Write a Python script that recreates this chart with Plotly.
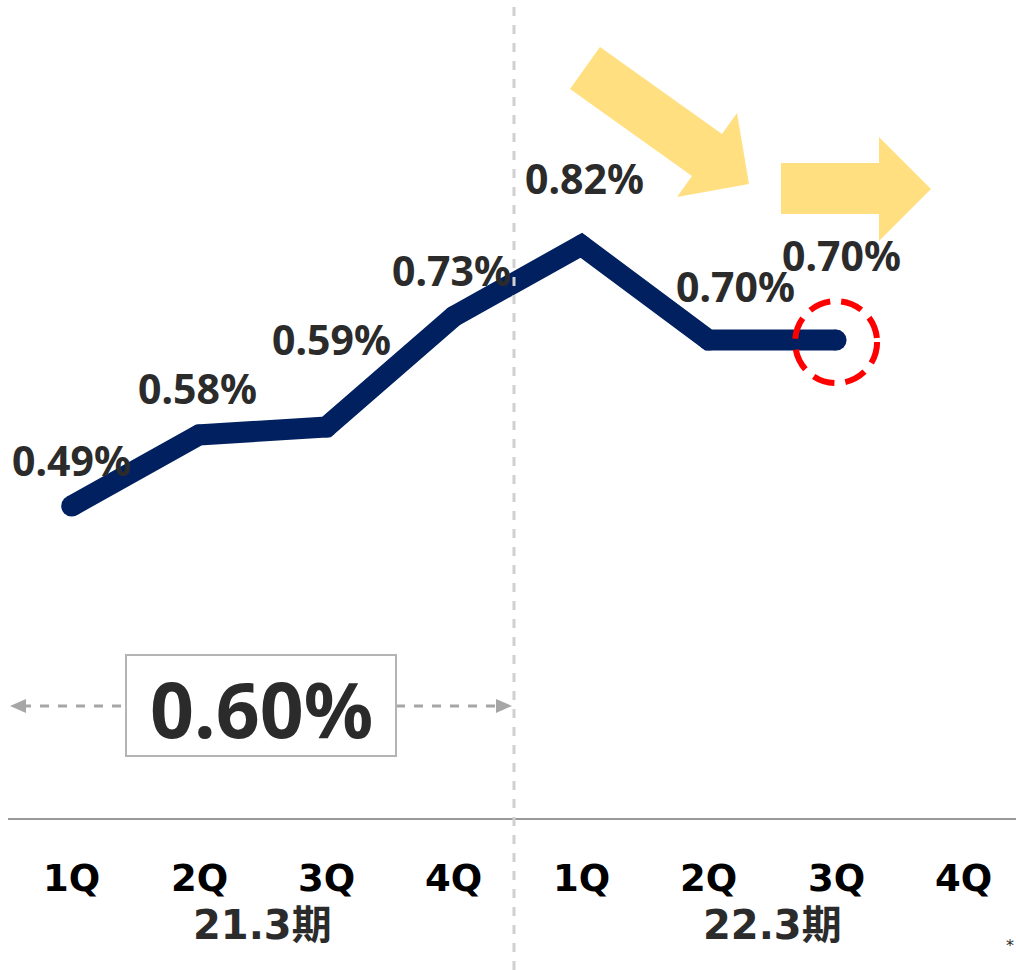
import plotly.graph_objects as go

quarters = ["1Q", "2Q", "3Q", "4Q", "1Q", "2Q", "3Q", "4Q"]
periods = ["21.3期", "22.3期"]
values = [0.49, 0.58, 0.59, 0.73, 0.82, 0.70, 0.70]
value_labels = ["0.49%", "0.58%", "0.59%", "0.73%", "0.82%", "0.70%", "0.70%"]
average_label = "0.60%"

W, H = 1016, 970
ML, MR, MT, MB = 8, 0, 0, 152
PW, PH = W - ML - MR, H - MT - MB
XR = [-0.5, -0.5 + PW / 127.4]
YR = [0.49 - 312 / 790, 0.49 + 506 / 790]

def px2paper(x, y):
    # x, y in screen pixels
    return ((x - ML) / PW, 1 - (y - MT) / PH)

def path(points):
    s = ""
    for i, (x, y) in enumerate(points):
        px, py = px2paper(x, y)
        s += ("M" if i == 0 else "L") + f"{px:.5f},{py:.5f} "
    return s + "Z"

NAVY = "#002060"
TXT = "#2b2b2b"
YEL = "#FFDF80"
GRAY = "#a6a6a6"

xs = list(range(len(values)))
fig = go.Figure()
fig.add_trace(go.Scatter(
    x=xs, y=values, mode="lines+markers",
    line=dict(color=NAVY, width=21),
    marker=dict(color=NAVY, size=21),
    hoverinfo="skip", showlegend=False))

label_offsets = [(0, 46), (-2, 47), (5, 88), (-2, 46), (3, 67), (27, 54), (5, 85)]
font_lab = dict(family="Noto Sans", size=41, color=TXT)
annotations = []
for i, (v, t) in enumerate(zip(values, value_labels)):
    dx, dy = label_offsets[i]
    annotations.append(dict(x=i, y=v, text=f"<b>{t}</b>", showarrow=False,
                            xanchor="center", yanchor="middle",
                            xshift=dx, yshift=dy, font=font_lab))

# quarter tick labels
for i, q in enumerate(quarters):
    annotations.append(dict(x=i, y=0, yref="paper", text=f"<b>{q}</b>", showarrow=False,
                            xanchor="center", yanchor="middle", yshift=-60,
                            font=dict(family="DejaVu Sans", size=37, color="#000000")))
# period labels
for j, p in enumerate(periods):
    annotations.append(dict(x=1.5 + 4 * j, y=0, yref="paper", text=f"<b>{p}</b>",
                            showarrow=False, xanchor="center", yanchor="middle", yshift=-107,
                            font=dict(family="DejaVu Sans, Noto Sans CJK JP", size=40, color=TXT)))
annotations.append(dict(x=px2paper(1010, 0)[0], xref="paper", y=0, yref="paper", text="*",
                        showarrow=False, xanchor="center", yanchor="middle", yshift=-127,
                        font=dict(family="DejaVu Sans", size=16, color=TXT)))
# average box text
bx, by = px2paper(261, 708)
annotations.append(dict(x=bx, y=by, xref="paper", yref="paper", text=f"<b>{average_label}</b>",
                        xanchor="center", yanchor="middle",
                        showarrow=False, font=dict(family="Noto Sans", size=77, color=TXT)))

shapes = []
# vertical divider
x1p, _ = px2paper(514, 0)
_, ybot = px2paper(0, 970)
shapes.append(dict(type="line", xref="paper", yref="paper", x0=x1p, x1=x1p, y0=ybot, y1=1,
                   line=dict(color="#d0d0d0", width=3, dash="dash")))
# diagonal arrow
shapes.append(dict(type="path", xref="paper", yref="paper", fillcolor=YEL, line=dict(width=0),
                   path=path([(600, 47), (722, 134), (737, 113), (749, 184), (677, 197), (692, 176), (570, 89)])))
# right arrow
shapes.append(dict(type="path", xref="paper", yref="paper", fillcolor=YEL, line=dict(width=0),
                   path=path([(781, 163), (879, 163), (879, 137), (931, 189), (879, 241), (879, 214), (781, 214)])))
# average dashed arrows
for (a, b) in [(22, 126), (396, 498)]:
    pa, py = px2paper(a, 706)
    pb, _ = px2paper(b, 706)
    shapes.append(dict(type="line", xref="paper", yref="paper", x0=pa, x1=pb, y0=py, y1=py,
                       line=dict(color=GRAY, width=3, dash="dash")))
shapes.append(dict(type="path", xref="paper", yref="paper", fillcolor=GRAY, line=dict(width=0),
                   path=path([(10, 706), (26, 699), (26, 713)])))
shapes.append(dict(type="path", xref="paper", yref="paper", fillcolor=GRAY, line=dict(width=0),
                   path=path([(512, 706), (496, 699), (496, 713)])))
# average box
b0x, b0y = px2paper(126, 655)
b1x, b1y = px2paper(396, 756)
shapes.append(dict(type="rect", xref="paper", yref="paper", x0=b0x, x1=b1x, y0=b1y, y1=b0y,
                   line=dict(color="#b4b4b4", width=2), fillcolor="rgba(0,0,0,0)"))
# red dashed circle highlight
shapes.append(dict(type="circle", xref="x", yref="y", xsizemode="pixel", ysizemode="pixel",
                   xanchor=6, yanchor=values[6], x0=-41, x1=41, y0=-43, y1=39,
                   line=dict(color="#ff0000", width=6, dash="22px,11px")))

fig.update_layout(
    width=W, height=H, margin=dict(l=ML, r=MR, t=MT, b=MB),
    plot_bgcolor="white", paper_bgcolor="white",
    xaxis=dict(range=XR, showticklabels=False,
               showgrid=False, zeroline=False, showline=True, linecolor="#999999", linewidth=2,
               ticks=""),
    yaxis=dict(range=YR, visible=False, showgrid=False, zeroline=False),
    annotations=annotations, shapes=shapes,
)
fig.write_html("out.html", config={"displayModeBar": False},
               post_script="document.body.style.margin='0px';document.body.style.overflow='hidden';")
